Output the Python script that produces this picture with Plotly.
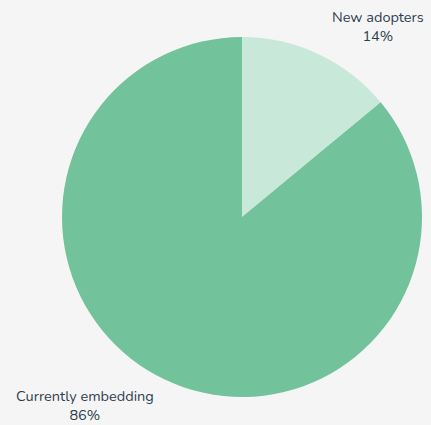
import plotly.graph_objects as go

labels = ["New adopters", "Currently embedding"]
values = [14, 86]
colors = ["#c8e8d9", "#72c29b"]
label_x = [0.877, 0.197]
label_y = [0.937, 0.046]

W, H = 431, 425
fig = go.Figure()
fig.add_trace(go.Pie(
    labels=labels, values=values, sort=False, direction="clockwise", rotation=0,
    marker=dict(colors=colors, line=dict(width=0)),
    textinfo="none", showlegend=False,
    domain=dict(x=[62 / W, 422 / W], y=[1 - 397 / H, 1 - 37 / H]),
))
total = sum(values)
for lab, v, x, y in zip(labels, values, label_x, label_y):
    fig.add_annotation(
        text=f"{lab}<br>{round(100 * v / total)}%", x=x, y=y, xref="paper", yref="paper",
        showarrow=False, xanchor="center", yanchor="middle", align="center",
        font=dict(family="Nunito, Lato, 'Open Sans', sans-serif", size=14.5, color="#2e3d4f"),
    )
fig.update_layout(
    width=W, height=H, margin=dict(l=0, r=0, t=0, b=0),
    paper_bgcolor="#f5f5f5", plot_bgcolor="#f5f5f5",
)
fig.write_html("out.html")
